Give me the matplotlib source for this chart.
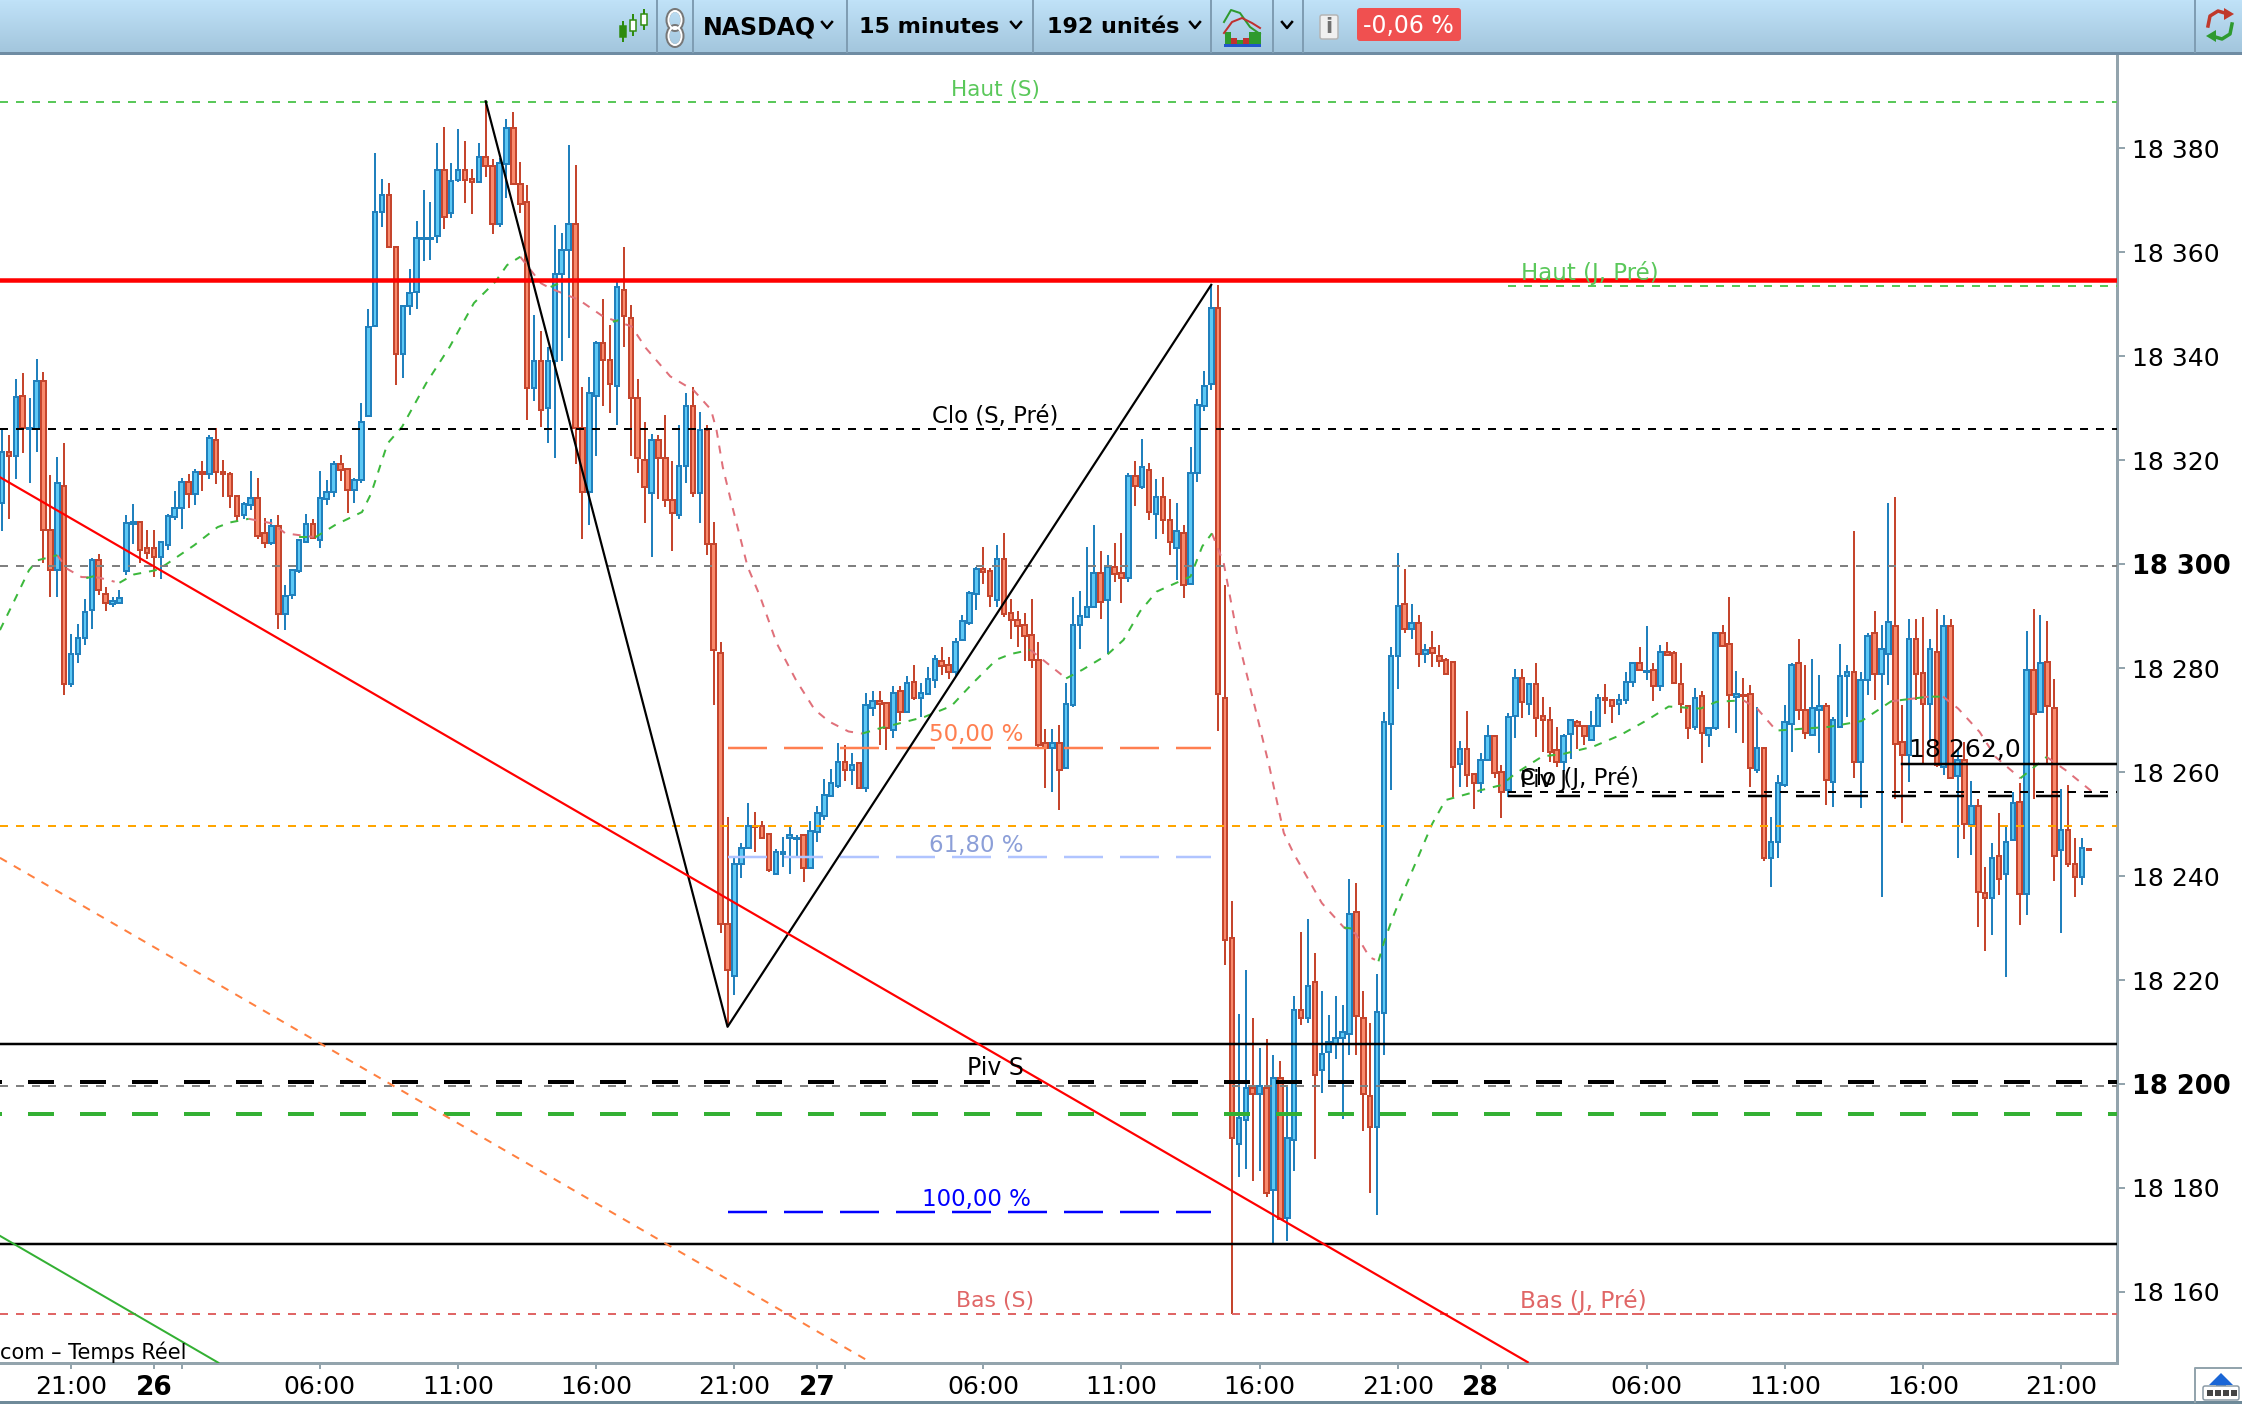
import numpy as np
import matplotlib
matplotlib.use('Agg')
import matplotlib.pyplot as plt
from matplotlib.patches import FancyBboxPatch, Rectangle, Polygon, Ellipse
from matplotlib.transforms import ScaledTranslation

plt.rcParams['lines.scale_dashes'] = False
plt.rcParams['font.family'] = ['DejaVu Sans']

# candles, one value per 15 minute bar
opens = [18311.8, 18321.6, 18320.8, 18332.4, 18325.9, 18326.0, 18335.2, 18306.5, 18298.8, 18315.0,
         18276.9, 18282.7, 18285.8, 18291.1, 18300.7, 18294.3, 18292.3, 18292.6, 18298.7, 18307.7,
         18308.1, 18303.1, 18303.1, 18301.4, 18303.7, 18309.1, 18310.7, 18315.8, 18313.4, 18317.7,
         18317.4, 18323.9, 18317.7, 18317.3, 18313.0, 18309.5, 18311.3, 18312.7, 18305.9, 18304.1,
         18307.3, 18290.3, 18294.1, 18298.6, 18304.3, 18307.7, 18304.6, 18312.6, 18313.9, 18319.3,
         18318.2, 18314.2, 18316.1, 18328.5, 18345.8, 18367.8, 18370.9, 18360.9, 18340.4, 18349.7,
         18352.3, 18362.6, 18362.5, 18363.1, 18375.8, 18367.6, 18373.8, 18375.8, 18374.0, 18373.4,
         18378.2, 18376.6, 18365.4, 18377.0, 18383.9, 18373.1, 18369.7, 18333.8, 18339.0, 18330.0,
         18339.0, 18355.8, 18360.4, 18365.4, 18326.2, 18313.9, 18332.4, 18342.5, 18339.3, 18334.3,
         18352.7, 18347.4, 18332.0, 18320.1, 18313.7, 18323.9, 18320.3, 18312.3, 18309.5, 18318.8,
         18330.4, 18313.7, 18325.7, 18303.8, 18282.9, 18230.8, 18220.8, 18242.3, 18245.4, 18249.7,
         18249.6, 18248.1, 18240.4, 18244.3, 18247.3, 18247.1, 18247.8, 18241.5, 18248.4, 18251.6,
         18255.4, 18257.4, 18262.0, 18260.4, 18261.7, 18256.9, 18272.3, 18273.6, 18273.2, 18268.1,
         18275.5, 18271.5, 18277.4, 18274.2, 18275.0, 18277.7, 18281.3, 18280.5, 18279.2, 18285.3,
         18288.6, 18294.2, 18299.0, 18298.6, 18293.0, 18300.9, 18290.6, 18289.3, 18288.3, 18286.3,
         18281.6, 18265.6, 18264.6, 18265.6, 18260.8, 18272.9, 18288.2, 18289.9, 18291.8, 18298.2,
         18293.0, 18299.4, 18298.2, 18297.3, 18317.0, 18314.9, 18318.1, 18309.7, 18312.8, 18308.5,
         18303.0, 18306.0, 18296.1, 18317.5, 18330.4, 18334.6, 18349.3, 18274.2, 18228.1, 18188.4,
         18193.1, 18199.3, 18198.1, 18199.3, 18179.7, 18201.1, 18174.3, 18189.2, 18214.3, 18212.7,
         18219.6, 18202.6, 18206.1, 18207.7, 18208.8, 18209.6, 18233.1, 18212.7, 18197.7, 18191.8,
         18213.7, 18269.2, 18282.4, 18292.4, 18287.6, 18288.6, 18282.7, 18283.9, 18282.4, 18281.5,
         18281.2, 18261.5, 18264.4, 18259.7, 18257.9, 18262.3, 18267.0, 18260.0, 18256.5, 18270.8,
         18278.1, 18273.1, 18277.0, 18270.8, 18270.1, 18264.2, 18262.0, 18267.3, 18269.7, 18268.9,
         18266.1, 18268.8, 18274.2, 18273.8, 18273.0, 18273.8, 18277.4, 18280.9, 18279.3, 18279.7,
         18276.5, 18283.1, 18282.8, 18277.0, 18272.7, 18268.7, 18274.7, 18267.2, 18268.4, 18286.7,
         18284.7, 18274.5, 18274.9, 18275.1, 18260.4, 18264.7, 18243.4, 18246.6, 18257.6, 18269.2,
         18280.9, 18271.9, 18267.2, 18271.9, 18272.7, 18258.0, 18268.7, 18278.5, 18279.3, 18261.9,
         18277.7, 18286.7, 18278.8, 18282.7, 18288.1, 18265.8, 18263.3, 18285.5, 18279.0, 18273.1,
         18283.1, 18261.0, 18288.1, 18259.2, 18262.3, 18249.8, 18253.5, 18236.7, 18235.7, 18243.9,
         18240.4, 18246.9, 18254.3, 18236.5, 18279.6, 18271.5, 18281.2, 18272.4, 18245.0, 18248.8,
         18242.3, 18239.9, 18245.2]
closes = [18321.6, 18320.8, 18332.1, 18326.1, 18326.1, 18335.2, 18306.5, 18298.8, 18315.5, 18276.9,
          18282.7, 18285.8, 18290.8, 18300.7, 18295.0, 18292.6, 18292.8, 18293.5, 18307.8, 18308.1,
          18302.7, 18302.2, 18301.4, 18304.3, 18309.3, 18310.8, 18315.8, 18313.4, 18317.7, 18317.3,
          18324.3, 18317.7, 18317.3, 18313.0, 18309.2, 18311.5, 18312.7, 18305.3, 18304.1, 18307.3,
          18290.3, 18293.9, 18298.8, 18304.6, 18307.7, 18305.0, 18312.7, 18313.9, 18319.3, 18318.0,
          18314.2, 18316.2, 18327.3, 18345.6, 18367.8, 18370.9, 18360.9, 18340.4, 18349.7, 18352.1,
          18362.8, 18362.8, 18362.7, 18375.8, 18366.8, 18373.6, 18375.8, 18373.9, 18373.4, 18378.2,
          18376.6, 18365.4, 18377.1, 18383.9, 18373.1, 18369.3, 18333.8, 18339.0, 18329.7, 18339.0,
          18355.8, 18360.4, 18365.4, 18326.2, 18313.9, 18332.9, 18342.5, 18339.3, 18334.7, 18353.2,
          18347.8, 18332.0, 18320.3, 18314.8, 18323.9, 18320.3, 18312.3, 18309.8, 18318.8, 18330.4,
          18313.7, 18325.7, 18303.8, 18283.4, 18230.8, 18222.0, 18242.3, 18245.4, 18249.6, 18249.5,
          18247.3, 18241.2, 18244.7, 18244.7, 18247.8, 18247.3, 18241.5, 18248.6, 18252.1, 18255.5,
          18257.9, 18262.0, 18260.4, 18261.3, 18256.9, 18272.8, 18273.6, 18273.1, 18268.4, 18275.2,
          18271.5, 18277.1, 18274.2, 18275.2, 18277.9, 18281.7, 18280.3, 18279.2, 18285.1, 18289.0,
          18294.4, 18299.0, 18298.4, 18293.8, 18300.9, 18290.4, 18289.3, 18288.0, 18286.1, 18281.6,
          18265.2, 18264.7, 18265.6, 18260.4, 18273.1, 18288.2, 18290.1, 18291.7, 18298.2, 18292.7,
          18299.4, 18298.1, 18297.3, 18317.0, 18315.0, 18318.6, 18310.0, 18312.8, 18308.5, 18304.3,
          18306.3, 18296.0, 18317.5, 18330.5, 18334.3, 18349.3, 18275.0, 18227.7, 18189.6, 18193.4,
          18199.3, 18198.1, 18199.6, 18179.1, 18201.1, 18174.0, 18189.6, 18214.3, 18212.7, 18218.9,
          18201.8, 18205.8, 18208.0, 18208.8, 18210.0, 18232.7, 18213.0, 18198.0, 18191.8, 18213.8,
          18269.6, 18282.4, 18292.0, 18287.6, 18288.6, 18282.7, 18283.5, 18282.9, 18281.3, 18278.8,
          18261.0, 18264.4, 18259.5, 18257.9, 18262.4, 18267.0, 18259.9, 18256.1, 18270.5, 18278.1,
          18273.5, 18277.0, 18270.3, 18270.0, 18263.8, 18262.0, 18267.0, 18270.0, 18268.8, 18266.9,
          18268.8, 18274.3, 18273.8, 18272.7, 18273.8, 18277.4, 18280.9, 18279.6, 18279.5, 18276.5,
          18283.1, 18282.6, 18277.2, 18273.0, 18268.4, 18274.3, 18267.6, 18268.5, 18286.7, 18284.2,
          18274.9, 18275.1, 18274.7, 18260.7, 18264.7, 18243.4, 18246.6, 18257.8, 18269.7, 18280.6,
          18271.9, 18267.6, 18272.4, 18272.7, 18258.5, 18270.1, 18278.5, 18279.3, 18261.9, 18277.7,
          18286.2, 18278.8, 18283.6, 18288.9, 18265.3, 18263.3, 18285.5, 18278.8, 18273.1, 18283.6,
          18261.3, 18288.1, 18258.8, 18262.3, 18250.0, 18253.5, 18236.9, 18235.7, 18243.5, 18239.5,
          18246.6, 18254.0, 18236.5, 18279.6, 18271.1, 18280.9, 18272.7, 18243.8, 18248.8, 18242.3,
          18239.9, 18245.4, 18245.0]
highs = [18325.7, 18324.8, 18335.5, 18336.7, 18331.9, 18339.4, 18337.0, 18317.1, 18320.5, 18323.2,
         18286.6, 18288.5, 18293.2, 18301.2, 18302.0, 18295.5, 18293.7, 18295.0, 18309.4, 18311.6,
         18308.1, 18306.6, 18306.6, 18304.3, 18309.7, 18314.0, 18316.6, 18317.4, 18318.2, 18319.8,
         18324.8, 18326.2, 18320.1, 18317.7, 18313.0, 18311.9, 18317.8, 18316.6, 18308.9, 18308.6,
         18309.4, 18295.9, 18299.1, 18304.6, 18309.7, 18308.6, 18317.8, 18316.2, 18319.8, 18320.9,
         18318.2, 18316.6, 18330.9, 18349.0, 18379.0, 18374.0, 18373.2, 18360.9, 18349.7, 18356.7,
         18366.0, 18372.0, 18369.7, 18380.9, 18384.0, 18377.1, 18383.6, 18381.3, 18375.9, 18380.9,
         18389.0, 18377.9, 18378.0, 18385.5, 18387.0, 18377.4, 18372.9, 18347.9, 18344.8, 18341.8,
         18365.2, 18363.6, 18380.6, 18376.8, 18334.1, 18335.9, 18342.9, 18350.9, 18346.0, 18354.3,
         18360.9, 18349.8, 18335.5, 18327.3, 18325.1, 18324.8, 18328.6, 18319.8, 18326.7, 18332.9,
         18334.0, 18329.3, 18326.7, 18308.1, 18285.1, 18251.3, 18243.4, 18246.3, 18254.0, 18252.3,
         18250.6, 18248.1, 18245.2, 18247.5, 18249.5, 18247.8, 18247.8, 18250.6, 18253.4, 18258.7,
         18260.6, 18265.6, 18265.2, 18263.6, 18261.7, 18275.2, 18275.6, 18275.6, 18273.2, 18276.5,
         18276.5, 18278.4, 18280.6, 18277.1, 18280.2, 18282.5, 18284.0, 18282.1, 18285.8, 18290.2,
         18294.9, 18299.4, 18303.3, 18299.2, 18303.7, 18305.9, 18293.3, 18291.0, 18290.6, 18293.3,
         18285.1, 18268.3, 18268.3, 18269.1, 18277.1, 18293.6, 18294.9, 18303.3, 18307.5, 18302.5,
         18301.8, 18304.0, 18305.9, 18317.5, 18319.8, 18324.0, 18319.4, 18316.3, 18316.7, 18312.5,
         18311.7, 18307.5, 18322.5, 18331.7, 18337.1, 18353.7, 18353.7, 18296.0, 18235.1, 18213.5,
         18222.0, 18212.7, 18207.0, 18208.7, 18205.6, 18204.4, 18199.6, 18217.0, 18229.3, 18231.7,
         18225.1, 18217.8, 18213.3, 18217.0, 18215.1, 18239.4, 18238.6, 18217.8, 18211.7, 18221.2,
         18271.6, 18284.0, 18302.1, 18299.0, 18292.4, 18290.2, 18284.7, 18287.1, 18284.4, 18282.0,
         18281.2, 18266.0, 18271.7, 18259.7, 18263.6, 18269.0, 18267.0, 18261.3, 18271.3, 18279.8,
         18279.8, 18277.0, 18280.9, 18274.5, 18272.6, 18268.6, 18267.4, 18270.0, 18270.0, 18268.9,
         18271.8, 18275.1, 18276.9, 18273.8, 18275.1, 18279.3, 18280.9, 18284.1, 18288.1, 18280.9,
         18284.4, 18285.1, 18283.3, 18280.9, 18272.7, 18276.1, 18275.6, 18268.5, 18286.7, 18288.3,
         18293.7, 18279.4, 18278.0, 18276.7, 18272.6, 18264.7, 18251.4, 18259.4, 18272.9, 18280.9,
         18285.6, 18280.6, 18281.7, 18278.6, 18273.2, 18270.6, 18284.7, 18280.6, 18306.3, 18279.3,
         18286.7, 18290.9, 18288.3, 18311.8, 18312.8, 18272.9, 18289.5, 18289.5, 18289.9, 18285.5,
         18291.3, 18290.2, 18289.4, 18264.5, 18265.8, 18258.3, 18254.8, 18241.8, 18246.3, 18252.2,
         18249.5, 18256.2, 18257.8, 18287.1, 18291.3, 18290.2, 18289.0, 18277.9, 18256.7, 18257.5,
         18247.4, 18247.4, 18245.2]
lows = [18306.4, 18308.7, 18316.4, 18321.4, 18315.5, 18321.6, 18300.2, 18293.7, 18293.7, 18274.8,
        18276.4, 18281.0, 18284.4, 18287.5, 18294.0, 18291.0, 18291.8, 18292.6, 18297.8, 18303.9,
        18300.2, 18301.0, 18297.5, 18297.1, 18302.7, 18308.5, 18306.8, 18310.7, 18311.4, 18314.1,
        18316.4, 18315.3, 18312.9, 18310.7, 18308.1, 18308.7, 18310.3, 18304.9, 18303.0, 18303.7,
        18287.6, 18287.3, 18293.2, 18298.3, 18304.3, 18304.9, 18303.0, 18311.4, 18312.9, 18316.0,
        18309.8, 18311.8, 18315.6, 18328.5, 18345.8, 18364.9, 18360.9, 18334.5, 18335.7, 18347.9,
        18349.1, 18358.2, 18358.5, 18361.8, 18364.5, 18366.5, 18373.4, 18369.5, 18367.3, 18373.4,
        18374.5, 18363.4, 18364.9, 18370.4, 18373.1, 18367.5, 18327.7, 18331.4, 18326.4, 18323.3,
        18320.3, 18339.0, 18343.4, 18319.2, 18304.9, 18307.5, 18320.7, 18330.3, 18329.1, 18326.8,
        18341.8, 18320.7, 18317.6, 18307.9, 18301.4, 18312.5, 18311.0, 18302.5, 18308.6, 18315.6,
        18312.9, 18307.9, 18301.7, 18272.8, 18229.1, 18211.0, 18217.1, 18239.6, 18245.4, 18244.7,
        18247.3, 18240.7, 18240.4, 18241.8, 18240.4, 18243.9, 18238.8, 18241.5, 18246.6, 18250.7,
        18255.4, 18256.9, 18258.2, 18257.5, 18256.9, 18256.1, 18270.7, 18265.2, 18264.2, 18266.5,
        18269.9, 18271.5, 18273.8, 18270.6, 18275.0, 18276.1, 18278.7, 18277.9, 18278.4, 18285.3,
        18288.2, 18291.1, 18296.2, 18291.8, 18291.8, 18289.9, 18285.6, 18284.1, 18281.4, 18280.0,
        18264.8, 18256.9, 18256.1, 18252.7, 18260.8, 18272.5, 18283.7, 18289.6, 18291.8, 18289.5,
        18282.7, 18296.5, 18292.6, 18296.5, 18311.1, 18314.5, 18308.4, 18304.9, 18305.7, 18301.8,
        18297.0, 18293.4, 18296.1, 18315.7, 18329.5, 18333.4, 18267.9, 18222.8, 18155.8, 18182.1,
        18183.7, 18181.3, 18183.3, 18178.3, 18169.2, 18173.9, 18169.8, 18183.3, 18211.3, 18211.7,
        18185.6, 18198.3, 18200.6, 18204.8, 18193.3, 18205.6, 18205.6, 18191.0, 18179.1, 18174.8,
        18205.6, 18256.6, 18276.0, 18286.8, 18285.6, 18280.2, 18280.9, 18280.2, 18280.2, 18278.8,
        18255.2, 18257.2, 18257.2, 18252.9, 18256.0, 18262.3, 18258.8, 18251.1, 18255.2, 18266.5,
        18270.3, 18271.0, 18266.8, 18263.8, 18262.0, 18261.0, 18260.2, 18262.6, 18264.5, 18265.2,
        18266.0, 18268.8, 18271.1, 18269.5, 18271.0, 18273.0, 18276.4, 18279.6, 18277.7, 18273.6,
        18275.6, 18282.6, 18276.9, 18271.3, 18266.3, 18268.1, 18261.8, 18264.9, 18268.1, 18284.2,
        18268.4, 18267.6, 18265.5, 18257.2, 18259.9, 18242.9, 18237.9, 18243.4, 18257.2, 18263.8,
        18270.0, 18266.3, 18267.2, 18263.6, 18253.6, 18253.3, 18268.7, 18270.6, 18258.8, 18253.0,
        18274.8, 18273.8, 18236.0, 18276.7, 18254.9, 18250.2, 18258.0, 18273.8, 18261.7, 18266.0,
        18261.0, 18259.4, 18258.8, 18243.4, 18247.2, 18244.0, 18230.2, 18225.6, 18228.6, 18236.3,
        18220.6, 18246.9, 18230.6, 18232.5, 18254.9, 18271.5, 18261.7, 18239.1, 18229.1, 18241.8,
        18236.0, 18238.3, 18245.0]

# moving average, green while rising and red while falling, nan = gap
ma_up_bars = [-0.3, 1.8, 3.9, 5.1, 8.0, np.nan, 12.2, 14.0, np.nan, 17.0, 19.1, 22.2, 23.6, 27.8, 31.2, 33.0, 35.7, np.nan,
              43.0, 45.4, 48.2, 52.1, 53.4, 55.8, 57.9, 61.4, 64.8, 68.3, 71.4, 73.1, 75.0, np.nan,
              79.4, 82.0, np.nan, 88.4, 89.2, np.nan, 124.5, 127.0, 130.0, 133.5, 137.4, 140.5, 143.9, 146.0, 148.8, np.nan,
              154.0, 156.4, 159.9, 162.3, 164.7, 167.1, 172.0, 173.7, 175.1, np.nan, 194.2, 195.3, np.nan,
              199.2, 200.0, 201.3, 202.3, 207.0, 208.9, 214.0, 217.0, 219.0, 222.9, 226.0, 230.3, 234.2, 238.1, 241.2,
              245.8, 248.1, 252.0, np.nan, 257.1, 264.5, 269.1, 273.4, 278.8, 280.9, np.nan, 292.1, 295.9]
ma_up_vals = [18287.3, 18293.0, 18298.8, 18300.7, 18301.7, np.nan, 18297.3, 18297.9, np.nan, 18296.4, 18298.0, 18298.8, 18299.8, 18303.6, 18307.1, 18308.0, 18308.7, np.nan,
              18305.2, 18305.2, 18307.5, 18310.0, 18313.5, 18323.2, 18326.4, 18334.8, 18341.8, 18350.2, 18354.3, 18357.5, 18359.1, np.nan,
              18353.3, 18354.8, np.nan, 18346.6, 18346.9, np.nan, 18267.4, 18268.4, 18269.4, 18270.6, 18272.7, 18277.1, 18281.6, 18282.7, 18283.5, np.nan,
              18278.0, 18279.7, 18282.5, 18285.4, 18290.9, 18294.7, 18297.6, 18303.4, 18305.9, np.nan, 18230.1, 18229.9, np.nan,
              18223.6, 18227.3, 18232.1, 18235.4, 18250.1, 18254.6, 18256.5, 18257.5, 18259.7, 18263.0, 18263.5, 18264.9, 18267.1, 18270.0, 18272.6,
              18272.2, 18273.5, 18273.8, np.nan, 18268.0, 18268.7, 18269.8, 18273.6, 18274.5, 18274.5, np.nan, 18258.8, 18262.9]
ma_down_bars = [8.0, 9.4, 11.5, 14.0, 16.3, np.nan, 35.7, 39.2, 41.0, 45.1, np.nan,
                75.0, 78.0, 79.4, 83.5, 87.0, 91.1, 93.2, 96.7, 100.1, 102.6, 103.4, 104.3, 105.7, 107.9, 109.7, 112.1, 114.9, 117.6, 119.7, 122.5, 124.5, np.nan,
                148.8, 150.9, 154.0, np.nan, 175.1, 176.8, 178.9, 181.3, 183.4, 185.5, 186.9, 191.0, 194.2, 195.9, 197.9, 198.7, np.nan,
                252.0, 254.0, 256.3, np.nan, 273.4, 278.8, np.nan, 280.9, 283.1, 286.2, 288.5, 292.1, np.nan, 295.9, 298.6, 302.5]
ma_down_vals = [18301.7, 18299.1, 18297.5, 18297.4, 18296.6, np.nan, 18308.7, 18307.8, 18305.9, 18305.2, np.nan,
                18359.1, 18354.0, 18353.0, 18350.8, 18347.6, 18345.7, 18341.5, 18336.1, 18333.4, 18329.7, 18325.8, 18318.7, 18311.0, 18299.5, 18293.8, 18284.8, 18277.7, 18272.0, 18269.7, 18267.8, 18267.4, np.nan,
                18283.5, 18281.3, 18278.0, np.nan, 18305.9, 18300.2, 18285.4, 18272.6, 18261.1, 18248.3, 18244.4, 18234.8, 18230.1, 18228.9, 18224.4, 18223.9, np.nan,
                18273.8, 18272.2, 18268.7, np.nan, 18273.6, 18274.5, np.nan, 18274.5, 18272.2, 18267.7, 18262.9, 18258.8, np.nan, 18262.9, 18260.4, 18256.2]

# axis labels
ytick_vals = [18160, 18180, 18200, 18220, 18240, 18260, 18280, 18300, 18320, 18340, 18360, 18380]
ytick_bold = [18200, 18300]
xtick_bars = [10, 22, 26, 46, 66, 86, 106, 118, 122, 142, 162, 182, 202, 214, 218, 238, 258, 278, 298]
xtick_labels = ['21:00', '26', '', '06:00', '11:00', '16:00', '21:00', '27', '', '06:00', '11:00', '16:00', '21:00', '28', '', '06:00', '11:00', '16:00', '21:00']

# price levels
haut_s = 18388.9
resistance = 18354.6
clo_s = 18326
level_300 = 18299.6
level_250 = 18249.6
piv_s = 18200.3
level_200 = 18199.6
green_s = 18194.2
support_up = 18207.7
support_dn = 18169.2
bas_s = 18155.8
haut_j = 18353.4
clo_j = 18256.2
piv_j = 18255.4
last_level = 18261.5

# fibonacci tool
zig_bars = [70, 105, 175]
zig_vals = [18389, 18211, 18353.7]
fib_50 = 18264.7
fib_618 = 18243.6
fib_100 = 18175.4

# trend lines
red_trend = ([-0.3, 220.8], [18316.7, 18146.5])
orange_trend = ([-0.3, 125.8], [18243.5, 18146.4])
green_trend = ([-0.3, 31.3], [18170.8, 18146.4])

W, H = 2242, 1404
px = 0.72  # one pixel in points at dpi 100

fig = plt.figure(figsize=(W / 100, H / 100), dpi=100, facecolor='white')
ax = fig.add_axes([0, (H - 1362.7) / H, 2117 / W, (1362.7 - 55) / H])
ax.set_xlim(-0.29, 306.08)
ax.set_ylim(18146.4, 18397.9)

opens = np.array(opens)
closes = np.array(closes)
highs = np.array(highs)
lows = np.array(lows)
bars = np.arange(len(opens))
up = closes >= opens

# candles
ax.vlines(bars[up], lows[up], highs[up], color='#2080bd', lw=2 * px, zorder=2)
ax.vlines(bars[~up], lows[~up], highs[~up], color='#c5452d', lw=2 * px, zorder=2)
ax.bar(bars[up], (closes - opens)[up], bottom=opens[up], width=0.66, color='#5cc8f5', edgecolor='#2080bd', linewidth=2 * px, zorder=3)
ax.bar(bars[~up], (opens - closes)[~up], bottom=closes[~up], width=0.66, color='#f98a6c', edgecolor='#c5452d', linewidth=2 * px, zorder=3)

# moving average
ax.plot(ma_down_bars, ma_down_vals, color='#e0707a', lw=2 * px, dashes=(8 * px, 8 * px), zorder=4)
ax.plot(ma_up_bars, ma_up_vals, color='#3cb83c', lw=2 * px, dashes=(8 * px, 8 * px), zorder=4)

# horizontal levels
short_dash = (8 * px, 8 * px)
ax.axhline(haut_s, color='#5ac85a', lw=2 * px, dashes=short_dash, zorder=5)
ax.axhline(clo_s, color='black', lw=2 * px, dashes=short_dash, zorder=5)
ax.axhline(level_300, color='#808080', lw=2 * px, dashes=short_dash, zorder=5)
ax.axhline(level_250, color='#ffa500', lw=2 * px, dashes=short_dash, zorder=5)
ax.axhline(level_200, color='#808080', lw=2 * px, dashes=short_dash, zorder=5)
ax.axhline(bas_s, color='#e06666', lw=2 * px, dashes=short_dash, zorder=5)
ax.axhline(resistance, color='#ff0000', lw=4.5 * px, zorder=6)
ax.axhline(support_up, color='black', lw=2.5 * px, zorder=5)
ax.axhline(support_dn, color='black', lw=2.5 * px, zorder=5)
ax.plot([-0.29, 306.08], [piv_s, piv_s], color='black', lw=4 * px, linestyle=(24 * px, (26 * px, 26 * px)), zorder=5)
ax.plot([-0.29, 306.08], [green_s, green_s], color='#33b033', lw=4 * px, linestyle=(24 * px, (26 * px, 26 * px)), zorder=5)

# previous day levels start at the last session
ax.plot([218, 306.08], [haut_j, haut_j], color='#5ac85a', lw=2 * px, dashes=short_dash, zorder=5)
ax.plot([218, 306.08], [clo_j, clo_j], color='black', lw=2 * px, dashes=short_dash, zorder=5)
ax.plot([218, 306.08], [piv_j, piv_j], color='black', lw=2.5 * px, dashes=(24 * px, 24 * px), zorder=5)
ax.plot([218, 306.08], [bas_s, bas_s], color='#e06666', lw=2 * px, dashes=short_dash, zorder=5)
ax.plot([275, 306.08], [last_level, last_level], color='black', lw=2.5 * px, zorder=7)

# fibonacci
long_dash = (39 * px, 17 * px)
ax.plot([105, 175], [fib_50, fib_50], color='#ff7f50', lw=2.5 * px, dashes=long_dash, zorder=5)
ax.plot([105, 175], [fib_618, fib_618], color='#b0c4ff', lw=2.5 * px, dashes=long_dash, zorder=5)
ax.plot([105, 175], [fib_100, fib_100], color='#0000ff', lw=2.5 * px, dashes=long_dash, zorder=5)
ax.plot(zig_bars, zig_vals, color='black', lw=2.2 * px, zorder=6)

# trend lines
ax.plot(red_trend[0], red_trend[1], color='#ff0000', lw=2.2 * px, zorder=6)
ax.plot(orange_trend[0], orange_trend[1], color='#ff8040', lw=2 * px, dashes=(8 * px, 8 * px), zorder=5)
ax.plot(green_trend[0], green_trend[1], color='#33b033', lw=2 * px, zorder=5)

# labels on the chart
ax.text(143.7, 18391.2, 'Haut (S)', color='#5ac85a', fontsize=15.5, ha='center', va='center', zorder=8)
ax.text(143.7, 18328.4, 'Clo (S, Pré)', color='black', fontsize=16.4, ha='center', va='center', zorder=8)
ax.text(143.7, 18203.0, 'Piv S', color='black', fontsize=17, ha='center', va='center', zorder=8)
ax.text(143.7, 18158.2, 'Bas (S)', color='#e06666', fontsize=15.8, ha='center', va='center', zorder=8)
ax.text(141, 18267.2, '50,00 %', color='#ff7f50', fontsize=16.5, ha='center', va='center', zorder=8)
ax.text(141, 18245.9, '61,80 %', color='#8c9fd8', fontsize=16.5, ha='center', va='center', zorder=8)
ax.text(141, 18177.8, '100,00 %', color='#0000ff', fontsize=16.5, ha='center', va='center', zorder=8)
ax.text(229.8, 18355.9, 'Haut (J, Pré)', color='#5ac85a', fontsize=16.5, ha='center', va='center', zorder=8)
ax.text(219.7, 18258.8, 'Clo (J, Pré)', color='black', fontsize=16.5, ha='left', va='center', zorder=8)
ax.text(219.7, 18258.3, 'Piv J', color='black', fontsize=16.5, ha='left', va='center', zorder=8)
ax.text(228.8, 18158.2, 'Bas (J, Pré)', color='#e06666', fontsize=16.8, ha='center', va='center', zorder=8)
ax.text(276, 18264.2, '18 262,0', color='black', fontsize=18, ha='left', va='center', zorder=8)
ax.text(0.0, 0.0, 'com – Temps Réel', color='black', fontsize=15, ha='left', va='bottom', transform=ax.transAxes, zorder=8)

# axes
for side in ['left', 'top']:
    ax.spines[side].set_visible(False)
for side in ['right', 'bottom']:
    ax.spines[side].set_color('#93a4ad')
    ax.spines[side].set_linewidth(3 * px)

ax.yaxis.tick_right()
ax.set_yticks(ytick_vals)
ax.set_yticklabels([f'{v // 1000} {v % 1000:03d}' for v in ytick_vals], fontsize=18)
for tick, v in zip(ax.yaxis.get_major_ticks(), ytick_vals):
    lab = tick.label2
    lab.set_transform(lab.get_transform() + ScaledTranslation(0, 0.02, fig.dpi_scale_trans))
    if v in ytick_bold:
        lab.set_fontweight('bold')
        lab.set_fontsize(18.5)
ax.tick_params(axis='y', length=8 * px, width=2 * px, color='#93a4ad', pad=5)
ax.set_xticks(xtick_bars)
ax.set_xticklabels(xtick_labels, fontsize=18)
for tick, lab in zip(ax.get_xticklabels(), xtick_labels):
    if len(lab) == 2:
        tick.set_fontweight('bold')
        tick.set_fontsize(19)
ax.tick_params(axis='x', length=6 * px, width=2 * px, color='#93a4ad', pad=4.5)

# toolbar and window chrome, in pixels of the figure
ui = fig.add_axes([0, 0, 1, 1], zorder=10)
ui.axis('off')
ui.patch.set_alpha(0)
grad = np.linspace(0, 1, 52).reshape(-1, 1)
ui.imshow(grad, extent=(0, W, 52, 0), aspect='auto', cmap=matplotlib.colors.LinearSegmentedColormap.from_list('bar', ['#c0e2f8', '#a3c6dd']))
ui.set_xlim(0, W)
ui.set_ylim(H, 0)
ui.add_patch(Rectangle((0, 52), W, 3, color='#6f8ca3', lw=0))
ui.add_patch(Rectangle((0, 1401), W, 3, color='#6f8a99', lw=0))
for sx in [657, 693, 847, 1033, 1211, 1273, 1303, 2195]:
    ui.plot([sx, sx], [0, 52], color='#7f9db3', lw=2 * px)

ui.text(703, 27, 'NASDAQ', fontsize=17, fontweight='bold', ha='left', va='center', color='black')
ui.text(859, 27, '15 minutes', fontsize=16, fontweight='bold', ha='left', va='center', color='black')
ui.text(1047, 27, '192 unités', fontsize=16, fontweight='bold', ha='left', va='center', color='black')
for cx in [827, 1016, 1195, 1287]:
    ui.plot([cx - 5, cx, cx + 5], [22, 28, 22], color='black', lw=2.5 * px)

# candle icon
for cx, y0, y1, b0, b1, fc in [(623, 22, 41, 26, 37, '#2e8b0e'), (633, 15, 35, 20, 31, 'white'), (644, 10, 29, 14, 25, 'white')]:
    ui.plot([cx, cx], [y0, y1], color='#2e8b0e', lw=2 * px)
    ui.add_patch(Rectangle((cx - 3, b0), 6, b1 - b0, fc=fc, ec='#2e8b0e', lw=1.5 * px, zorder=3))

# link icon
ui.add_patch(Ellipse((675, 20), 15, 20, fc='none', ec='#777777', lw=4 * px))
ui.add_patch(Ellipse((675, 36), 15, 20, fc='none', ec='#777777', lw=4 * px))
ui.add_patch(Ellipse((675, 20), 13, 18, fc='none', ec='white', lw=2 * px))
ui.add_patch(Ellipse((675, 36), 13, 18, fc='none', ec='white', lw=2 * px))

# indicator icon
ui.plot([1224, 1231, 1240, 1250, 1260], [22, 10, 13, 27, 34], color='#2e9a2e', lw=2 * px)
ui.plot([1224, 1232, 1242, 1252, 1260], [33, 22, 18, 23, 28], color='#c03030', lw=2 * px)
for rx, rh, col in [(1225, 12, '#2e9a2e'), (1231, 6, '#c03030'), (1237, 4, '#2e9a2e'), (1243, 6, '#c03030'), (1249, 12, '#2e9a2e'), (1255, 12, '#2e9a2e')]:
    ui.add_patch(Rectangle((rx, 44 - rh), 6, rh, color=col, lw=0))
ui.add_patch(Rectangle((1224, 44), 37, 2.5, color='#2255cc', lw=0))

# info icon
ui.add_patch(FancyBboxPatch((1322, 17), 14, 20, boxstyle='round,pad=2', fc='#f0f0f0', ec='#b5b5b5', lw=1.5 * px))
ui.text(1329, 27, 'i', fontsize=15, fontweight='bold', color='#707070', ha='center', va='center')

# change pill
ui.add_patch(FancyBboxPatch((1360, 11), 98, 27, boxstyle='round,pad=3', fc='#f05050', ec='#f05050', lw=0))
ui.text(1408, 26, '-0,06 %', fontsize=17, color='white', ha='center', va='center')

# refresh icon, top right
ui.plot([2208, 2210, 2218, 2228], [26, 16, 11, 14], color='#c0392b', lw=3.5 * px)
ui.plot([2232, 2230, 2222, 2212], [24, 34, 39, 36], color='#2e9a2e', lw=3.5 * px)
ui.add_patch(Polygon([[2224, 8], [2234, 14], [2224, 20]], color='#c0392b', lw=0))
ui.add_patch(Polygon([[2216, 30], [2206, 36], [2216, 42]], color='#2e9a2e', lw=0))

# bottom right button
ui.plot([2195, 2195, W], [1402, 1368, 1368], color='#93a4ad', lw=2 * px)
ui.add_patch(Polygon([[2221, 1373], [2233, 1385], [2226, 1385], [2226, 1387], [2216, 1387], [2216, 1385], [2209, 1385]], color='#1a66d6', lw=0))
ui.add_patch(FancyBboxPatch((2205, 1388), 32, 10, boxstyle='round,pad=2', fc='white', ec='#8a9aa5', lw=1.5 * px))
for bx in [2207, 2215, 2223, 2231]:
    ui.add_patch(Rectangle((bx, 1390), 6, 6, color='#444444', lw=0))

fig.savefig('out.png', dpi=100)
